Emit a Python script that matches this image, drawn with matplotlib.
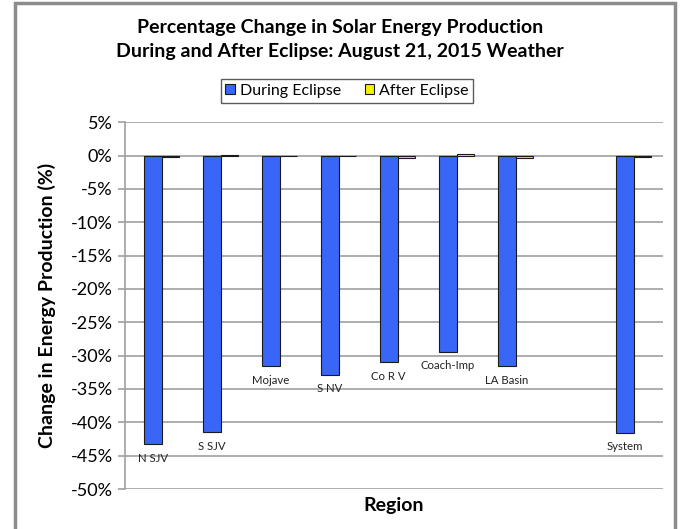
import matplotlib.pyplot as plt
from matplotlib.patches import Rectangle
import numpy as np

plt.rcParams['font.family'] = ['Lato', 'DejaVu Sans']

regions = ['N SJV', 'S SJV', 'Mojave', 'S NV', 'Co R V', 'Coach-Imp', 'LA Basin', '', 'System']
during = [-43.3, -41.5, -31.6, -32.9, -31.0, -29.4, -31.6, np.nan, -41.6]
after = [-0.2, 0.1, -0.1, -0.1, -0.4, 0.2, -0.4, np.nan, -0.2]
yticks = list(range(5, -55, -5))

blue = '#3A66F7'
yellow = '#F5F200'
grey = '#A0A0A0'

fig = plt.figure(figsize=(6.8, 5.29), dpi=100)
# outer chart border
fig.patches.append(Rectangle((15/680, -0.05), 660/680, 1 - 3/529 + 0.05,
                             transform=fig.transFigure, fill=False,
                             edgecolor='#8c8c8c', linewidth=2.5))

ax = fig.add_axes([125/680, 1 - 489/529, (663 - 125)/680, (489 - 122.3)/529])
x = np.arange(len(regions))
w = 0.3
b1 = ax.bar(x - w/2, during, w, color=blue, edgecolor='#1a1a1a', linewidth=0.8,
            label='During Eclipse', zorder=3)
b2 = ax.bar(x + w/2, after, w, color=yellow, edgecolor='#1a1a1a', linewidth=0.8,
            label='After Eclipse', zorder=3)

# region names sit just under the end of each blue bar
for xi, v, name in zip(x, during, regions):
    if name:
        ax.annotate(name, (xi - w/2, v), xytext=(0, -10), textcoords='offset points',
                    ha='center', va='center', fontsize=8.2, color='#222222')

ax.set_ylim(-50, 5)
ax.set_xlim(-0.62, 8.5)
ax.set_yticks(yticks)
ax.set_yticklabels([f'{t}%' for t in yticks], fontsize=13)
ax.set_xticks([])
ax.yaxis.grid(True, color=grey, linewidth=1.2, zorder=0)
for s in ['top', 'right', 'bottom']:
    ax.spines[s].set_visible(False)
ax.spines['left'].set_color(grey)
ax.spines['left'].set_linewidth(1.2)
ax.tick_params(axis='y', color=grey, length=5, width=1.2, pad=4)

ax.set_ylabel('Change in Energy Production (%)', fontsize=14, fontweight='bold', labelpad=10)
ax.set_xlabel('Region', fontsize=14, fontweight='bold', labelpad=6)

fig.text(0.5, 1 - 28/529, 'Percentage Change in Solar Energy Production',
         ha='center', va='center', fontsize=14, fontweight='bold')
fig.text(0.5, 1 - 52/529, 'During and After Eclipse: August 21, 2015 Weather',
         ha='center', va='center', fontsize=14, fontweight='bold')

leg = fig.legend(handles=[b1, b2], loc='center', bbox_to_anchor=(347/680, 1 - 91/529),
                 ncol=2, fontsize=11.5, frameon=True, fancybox=False, edgecolor='#333333',
                 handlelength=0.6, handleheight=0.6, handletextpad=0.3, columnspacing=1.5,
                 borderpad=0.3)
leg.get_frame().set_linewidth(1.0)

fig.savefig('out.png', dpi=100)
